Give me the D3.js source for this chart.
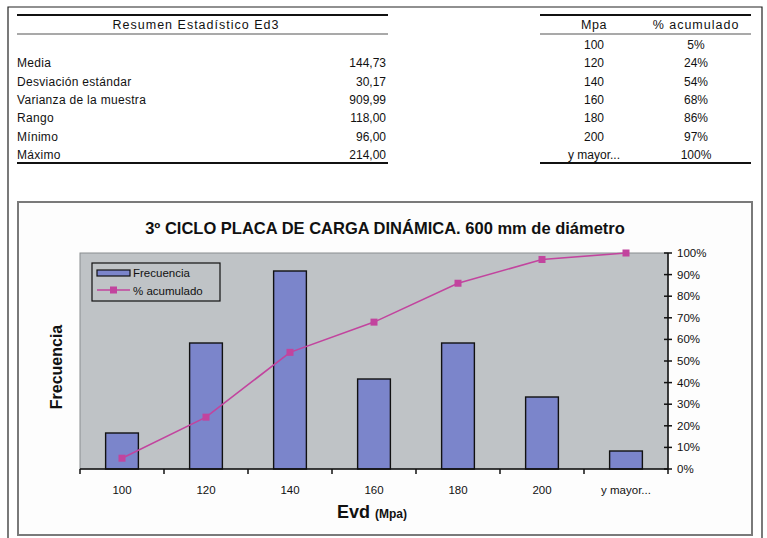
<!DOCTYPE html>
<html>
<head>
<meta charset="utf-8">
<script src="https://cdn.jsdelivr.net/npm/d3@7"></script>
<style>
  body { margin: 0; background: #fff; }
  text { font-family: "Liberation Sans", Arial, sans-serif; fill: #111; }
</style>
</head>
<body>
<svg width="767" height="538"></svg>
<script>
// summary table
const statLabels = ['Media', 'Desviación estándar', 'Varianza de la muestra', 'Rango', 'Mínimo', 'Máximo'];
const statValues = ['144,73', '30,17', '909,99', '118,00', '96,00', '214,00'];

// frequency table / chart
const categories = ['100', '120', '140', '160', '180', '200', 'y mayor...'];
const frecuencia = [2, 7, 11, 5, 7, 4, 1];
const acumulado = [5, 24, 54, 68, 86, 97, 100];
const pctTicks = [0, 10, 20, 30, 40, 50, 60, 70, 80, 90, 100];

const svg = d3.select('svg');

// outer frame
svg.append('path')
  .attr('d', 'M8,538 V7 H762 V538')
  .attr('fill', 'none')
  .attr('stroke', '#222')
  .attr('stroke-width', 1.2);

// ---- left table ----
const lt = { x0: 17, x1: 388 };
svg.append('line').attr('x1', lt.x0).attr('x2', lt.x1).attr('y1', 15).attr('y2', 15)
  .attr('stroke', '#111').attr('stroke-width', 2.2);
svg.append('line').attr('x1', lt.x0).attr('x2', lt.x1).attr('y1', 34).attr('y2', 34)
  .attr('stroke', '#555').attr('stroke-width', 1.2);
svg.append('line').attr('x1', lt.x0).attr('x2', lt.x1).attr('y1', 163).attr('y2', 163)
  .attr('stroke', '#111').attr('stroke-width', 2.2);
svg.append('text')
  .attr('x', 196).attr('y', 29)
  .attr('text-anchor', 'middle').attr('font-size', 12.5)
  .attr('letter-spacing', 1)
  .text('Resumen Estadístico Ed3');

const rowY = d3.scalePoint().domain(d3.range(7)).range([45, 155]);

svg.selectAll('.stat-label')
  .data(statLabels)
  .enter()
  .append('text')
  .attr('class', 'stat-label')
  .attr('x', 17)
  .attr('y', (d, i) => rowY(i + 1) + 4)
  .attr('font-size', 12)
  .attr('letter-spacing', 0.3)
  .text(d => d);

svg.selectAll('.stat-value')
  .data(statValues)
  .enter()
  .append('text')
  .attr('class', 'stat-value')
  .attr('x', 386)
  .attr('y', (d, i) => rowY(i + 1) + 4)
  .attr('text-anchor', 'end')
  .attr('font-size', 12)
  .text(d => d);

// ---- right table ----
const rt = { x0: 540, x1: 751 };
svg.append('line').attr('x1', rt.x0).attr('x2', rt.x1).attr('y1', 15).attr('y2', 15)
  .attr('stroke', '#111').attr('stroke-width', 2.2);
svg.append('line').attr('x1', rt.x0).attr('x2', rt.x1).attr('y1', 34).attr('y2', 34)
  .attr('stroke', '#555').attr('stroke-width', 1.2);
svg.append('line').attr('x1', rt.x0).attr('x2', rt.x1).attr('y1', 163).attr('y2', 163)
  .attr('stroke', '#111').attr('stroke-width', 2.2);
svg.append('text').attr('x', 594).attr('y', 29).attr('text-anchor', 'middle')
  .attr('font-size', 12.5).attr('letter-spacing', 0.6).text('Mpa');
svg.append('text').attr('x', 696).attr('y', 29).attr('text-anchor', 'middle')
  .attr('font-size', 12.5).attr('letter-spacing', 1).text('% acumulado');

svg.selectAll('.mpa')
  .data(categories)
  .enter()
  .append('text')
  .attr('class', 'mpa')
  .attr('x', 594)
  .attr('y', (d, i) => rowY(i) + 4)
  .attr('text-anchor', 'middle')
  .attr('font-size', 12)
  .text(d => d);

svg.selectAll('.acum')
  .data(acumulado)
  .enter()
  .append('text')
  .attr('class', 'acum')
  .attr('x', 696)
  .attr('y', (d, i) => rowY(i) + 4)
  .attr('text-anchor', 'middle')
  .attr('font-size', 12)
  .text(d => d + '%');

// ---- chart box ----
svg.append('rect')
  .attr('x', 18).attr('y', 202).attr('width', 734).attr('height', 333)
  .attr('fill', '#fdfdfd')
  .attr('stroke', '#7a7a7a')
  .attr('stroke-width', 2);

svg.append('text')
  .attr('x', 385).attr('y', 234)
  .attr('text-anchor', 'middle')
  .attr('font-size', 16.5)
  .attr('font-weight', 'bold')
  .text('3º CICLO PLACA DE CARGA DINÁMICA. 600 mm de diámetro');

const plot = { left: 80, right: 668, top: 253, bottom: 469 };

const x = d3.scaleBand()
  .domain(categories)
  .range([plot.left, plot.right]);

const yFreq = d3.scaleLinear()
  .domain([0, 12])
  .range([plot.bottom, plot.top]);

const yPct = d3.scaleLinear()
  .domain([0, 100])
  .range([plot.bottom, plot.top]);

// plot area
svg.append('rect')
  .attr('x', plot.left).attr('y', plot.top)
  .attr('width', plot.right - plot.left).attr('height', plot.bottom - plot.top)
  .attr('fill', '#bfc3c6')
  .attr('stroke', '#8a8e90')
  .attr('stroke-width', 1);

// bars
const barW = x.bandwidth() * 0.39;
svg.selectAll('.bar')
  .data(frecuencia)
  .enter()
  .append('rect')
  .attr('class', 'bar')
  .attr('x', (d, i) => x(categories[i]) + x.bandwidth() / 2 - barW / 2)
  .attr('y', d => yFreq(d))
  .attr('width', barW)
  .attr('height', d => yFreq(0) - yFreq(d))
  .attr('fill', '#7b85cb')
  .attr('stroke', '#111')
  .attr('stroke-width', 1.4);

// cumulative line
const line = d3.line()
  .x((d, i) => x(categories[i]) + x.bandwidth() / 2)
  .y(d => yPct(d));

svg.append('path')
  .datum(acumulado)
  .attr('d', line)
  .attr('fill', 'none')
  .attr('stroke', '#c2449e')
  .attr('stroke-width', 1.6);

svg.selectAll('.marker')
  .data(acumulado)
  .enter()
  .append('rect')
  .attr('class', 'marker')
  .attr('x', (d, i) => x(categories[i]) + x.bandwidth() / 2 - 3.5)
  .attr('y', d => yPct(d) - 3.5)
  .attr('width', 7)
  .attr('height', 7)
  .attr('fill', '#c2449e');

// x axis
const xAxis = svg.append('g')
  .attr('transform', `translate(0,${plot.bottom})`);
xAxis.append('line')
  .attr('x1', plot.left).attr('x2', plot.right)
  .attr('stroke', '#111').attr('stroke-width', 1.5);
xAxis.selectAll('.xtick')
  .data(d3.range(categories.length + 1))
  .enter()
  .append('line')
  .attr('x1', i => plot.left + i * x.step())
  .attr('x2', i => plot.left + i * x.step())
  .attr('y1', 0).attr('y2', 5)
  .attr('stroke', '#111').attr('stroke-width', 1.5);
xAxis.selectAll('.xlabel')
  .data(categories)
  .enter()
  .append('text')
  .attr('x', d => x(d) + x.bandwidth() / 2)
  .attr('y', 25)
  .attr('text-anchor', 'middle')
  .attr('font-size', 11.5)
  .text(d => d);

// right axis
const rAxis = svg.append('g')
  .attr('transform', `translate(${plot.right},0)`);
rAxis.append('line')
  .attr('y1', plot.top).attr('y2', plot.bottom)
  .attr('stroke', '#111').attr('stroke-width', 1.5);
rAxis.selectAll('.rtick')
  .data(pctTicks)
  .enter()
  .append('line')
  .attr('x1', -4).attr('x2', 4)
  .attr('y1', d => yPct(d)).attr('y2', d => yPct(d))
  .attr('stroke', '#111').attr('stroke-width', 1.5);
rAxis.selectAll('.rlabel')
  .data(pctTicks)
  .enter()
  .append('text')
  .attr('x', 9)
  .attr('y', d => yPct(d) + 4)
  .attr('font-size', 11.5)
  .text(d => d + '%');

// axis titles
svg.append('text')
  .attr('transform', 'translate(62,367) rotate(-90)')
  .attr('text-anchor', 'middle')
  .attr('font-size', 16)
  .attr('font-weight', 'bold')
  .text('Frecuencia');

const xTitle = svg.append('text')
  .attr('x', 372).attr('y', 518)
  .attr('text-anchor', 'middle')
  .attr('font-weight', 'bold');
xTitle.append('tspan').attr('font-size', 18).text('Evd ');
xTitle.append('tspan').attr('font-size', 12).text('(Mpa)');

// legend
const legend = svg.append('g').attr('transform', 'translate(92,263)');
legend.append('rect')
  .attr('width', 128).attr('height', 38)
  .attr('fill', '#bfc3c6')
  .attr('stroke', '#111').attr('stroke-width', 1.2);
legend.append('rect')
  .attr('x', 5).attr('y', 7).attr('width', 33).attr('height', 6)
  .attr('fill', '#7b85cb').attr('stroke', '#111').attr('stroke-width', 1.2);
legend.append('text').attr('x', 41).attr('y', 14).attr('font-size', 11.5).text('Frecuencia');
legend.append('line')
  .attr('x1', 5).attr('x2', 38).attr('y1', 27).attr('y2', 27)
  .attr('stroke', '#c2449e').attr('stroke-width', 1.6);
legend.append('rect')
  .attr('x', 18).attr('y', 23.5).attr('width', 7).attr('height', 7)
  .attr('fill', '#c2449e');
legend.append('text').attr('x', 41).attr('y', 32).attr('font-size', 11.5).text('% acumulado');
</script>
</body>
</html>
